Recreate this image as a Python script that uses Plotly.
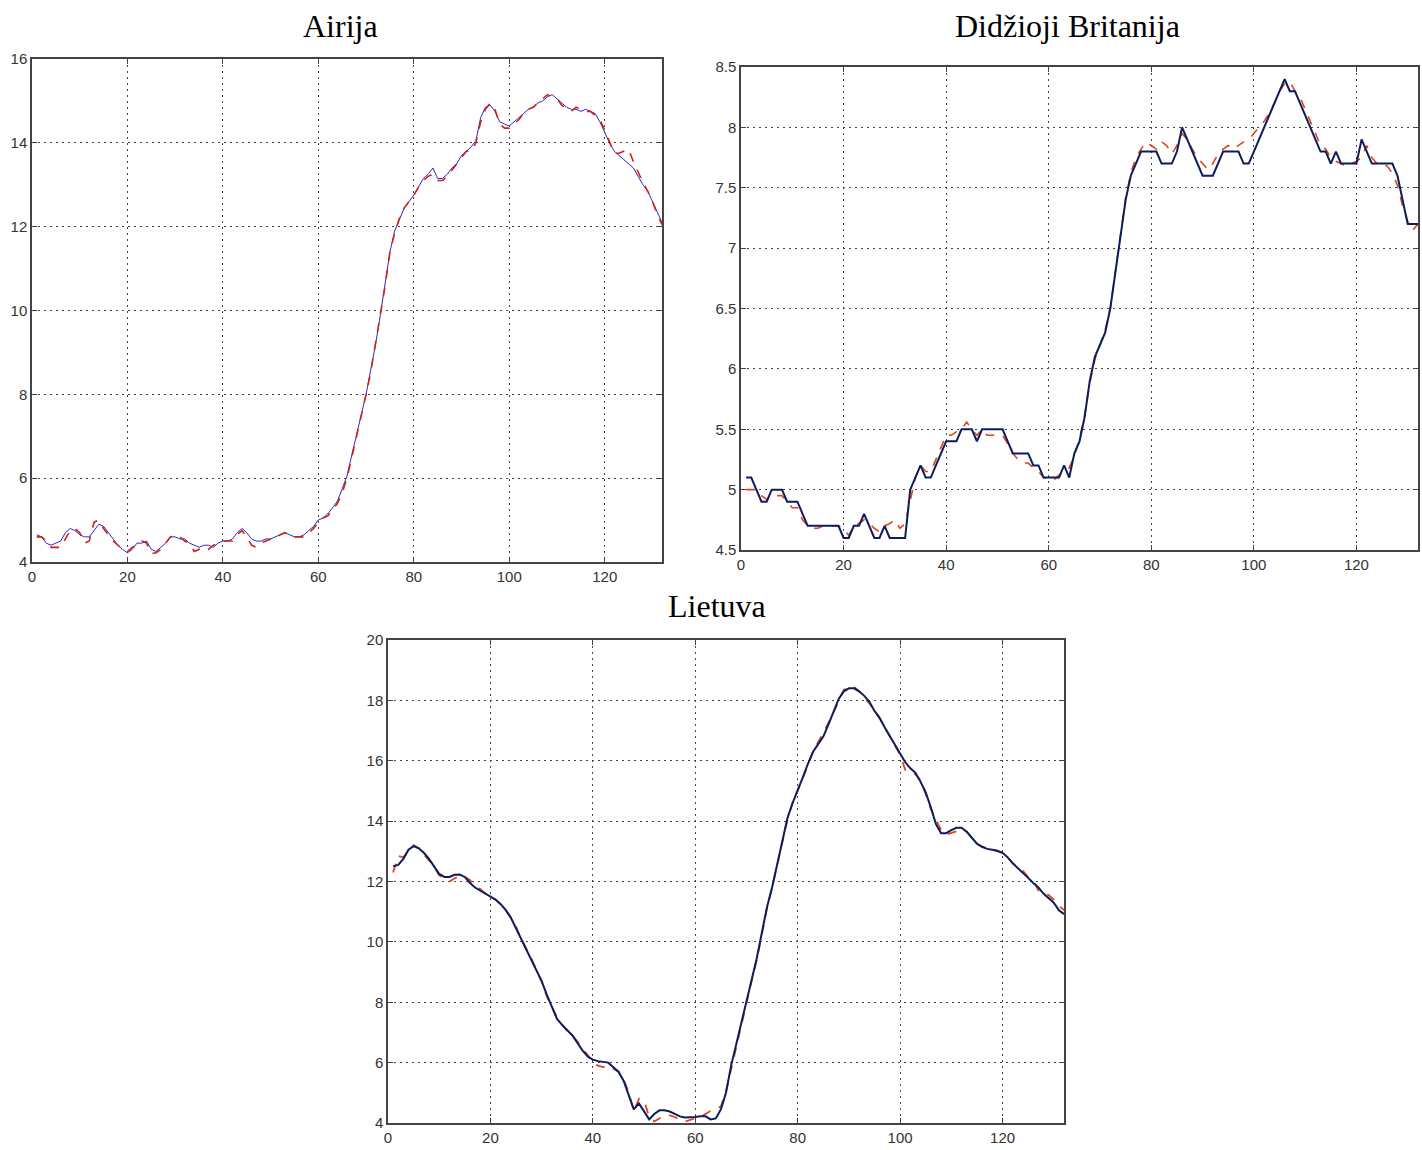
import plotly.graph_objects as go

x_vals = list(range(1, 133))

# Airija
air_actual = [4.65,4.6,4.45,4.4,4.45,4.5,4.7,4.8,4.75,4.65,4.6,4.6,4.75,4.9,4.85,4.7,4.55,4.4,4.3,4.22,
              4.3,4.45,4.45,4.5,4.3,4.25,4.35,4.45,4.6,4.6,4.55,4.55,4.45,4.4,4.35,4.4,4.4,4.35,4.45,4.5,
              4.5,4.55,4.7,4.8,4.7,4.55,4.5,4.5,4.55,4.55,4.6,4.65,4.7,4.65,4.6,4.6,4.65,4.75,4.85,5.0,
              5.05,5.15,5.3,5.45,5.75,6.05,6.55,7.05,7.5,8.0,8.6,9.2,9.9,10.7,11.4,11.9,12.2,12.45,12.6,12.75,
              12.95,13.15,13.25,13.4,13.15,13.15,13.25,13.4,13.5,13.7,13.8,13.9,14.05,14.6,14.85,14.9,14.75,14.5,14.45,14.4,
              14.5,14.6,14.7,14.8,14.85,14.95,15.0,15.1,15.15,15.05,14.95,14.85,14.8,14.8,14.75,14.8,14.75,14.7,14.5,14.25,
              14.0,13.8,13.7,13.6,13.5,13.4,13.2,13.0,12.85,12.6,12.35,12.1]
air_model = [4.6,4.6,4.5,4.35,4.35,4.35,4.55,4.75,4.8,4.7,4.45,4.5,4.95,5.0,4.8,4.65,4.5,4.4,4.3,4.25,
             4.35,4.4,4.5,4.45,4.2,4.22,4.3,4.45,4.6,4.65,4.6,4.5,4.45,4.25,4.3,4.35,4.3,4.4,4.45,4.5,
             4.5,4.5,4.65,4.75,4.6,4.4,4.35,4.45,4.5,4.55,4.55,4.65,4.7,4.6,4.6,4.6,4.6,4.7,4.8,4.95,
             5.05,5.1,5.25,5.4,5.65,6.0,6.5,7.0,7.45,8.0,8.55,9.2,9.9,10.6,11.4,11.85,12.2,12.45,12.6,12.75,
             12.95,13.1,13.2,13.25,13.1,13.1,13.2,13.35,13.5,13.65,13.8,13.8,14.0,14.5,14.8,14.95,14.8,14.45,14.35,14.35,
             14.45,14.55,14.7,14.8,14.85,14.95,15.05,15.15,15.1,15.05,14.9,14.8,14.75,14.85,14.8,14.75,14.75,14.65,14.55,14.3,
             14.0,13.75,13.75,13.8,13.85,13.55,13.3,13.05,12.85,12.6,12.3,12.05]

# Didzioji Britanija
gb_actual = [5.1,5.1,5.0,4.9,4.9,5.0,5.0,5.0,4.9,4.9,4.9,4.8,4.7,4.7,4.7,4.7,4.7,4.7,4.7,4.6,
             4.6,4.7,4.7,4.8,4.7,4.6,4.6,4.7,4.6,4.6,4.6,4.6,5.0,5.1,5.2,5.1,5.1,5.2,5.3,5.4,
             5.4,5.4,5.5,5.5,5.5,5.4,5.5,5.5,5.5,5.5,5.5,5.4,5.3,5.3,5.3,5.3,5.2,5.2,5.1,5.1,
             5.1,5.1,5.2,5.1,5.3,5.4,5.6,5.9,6.1,6.2,6.3,6.5,6.8,7.1,7.4,7.6,7.7,7.8,7.8,7.8,
             7.8,7.7,7.7,7.7,7.8,8.0,7.9,7.8,7.7,7.6,7.6,7.6,7.7,7.8,7.8,7.8,7.8,7.7,7.7,7.8,
             7.9,8.0,8.1,8.2,8.3,8.4,8.3,8.3,8.2,8.1,8.0,7.9,7.8,7.8,7.7,7.8,7.7,7.7,7.7,7.7,
             7.9,7.8,7.7,7.7,7.7,7.7,7.7,7.6,7.4,7.2,7.2,7.2]
gb_model = [5.0,5.0,5.0,4.95,4.92,4.95,4.95,4.95,4.9,4.85,4.85,4.75,4.7,4.68,4.68,4.7,4.7,4.7,4.7,4.68,
            4.62,4.7,4.72,4.75,4.72,4.68,4.65,4.7,4.72,4.75,4.68,4.72,4.9,5.1,5.2,5.15,5.15,5.25,5.35,5.45,
            5.45,5.48,5.5,5.56,5.5,5.45,5.5,5.45,5.45,5.45,5.45,5.38,5.3,5.25,5.22,5.22,5.18,5.15,5.1,5.08,
            5.08,5.12,5.15,5.18,5.28,5.42,5.62,5.88,6.08,6.2,6.32,6.5,6.82,7.12,7.42,7.62,7.75,7.82,7.88,7.85,
            7.82,7.88,7.85,7.78,7.85,7.95,7.9,7.82,7.75,7.7,7.65,7.7,7.78,7.82,7.85,7.82,7.85,7.88,7.9,7.95,
            8.0,8.05,8.12,8.2,8.3,8.36,8.38,8.3,8.25,8.15,8.05,7.95,7.85,7.82,7.75,7.72,7.7,7.68,7.7,7.72,
            7.75,7.85,7.75,7.7,7.7,7.68,7.62,7.52,7.35,7.22,7.15,7.2]

# Lietuva
lt_actual = [12.5,12.55,12.75,13.05,13.17,13.1,12.95,12.75,12.5,12.25,12.15,12.15,12.22,12.23,12.15,11.95,11.8,11.7,11.6,11.5,
             11.4,11.25,11.05,10.8,10.45,10.1,9.8,9.45,9.1,8.7,8.25,7.85,7.45,7.25,7.08,6.9,6.65,6.4,6.2,6.1,
             6.05,6.03,6.0,5.85,5.7,5.4,4.9,4.45,4.65,4.4,4.12,4.3,4.42,4.42,4.38,4.3,4.22,4.18,4.18,4.2,
             4.22,4.22,4.12,4.15,4.45,5.0,5.9,6.6,7.4,8.1,8.75,9.45,10.3,11.15,11.8,12.6,13.35,14.1,14.6,15.0,
             15.45,15.9,16.3,16.55,16.8,17.2,17.65,18.05,18.3,18.4,18.4,18.3,18.15,17.95,17.65,17.42,17.1,16.8,16.5,16.2,
             15.95,15.75,15.6,15.3,14.95,14.45,13.9,13.6,13.6,13.7,13.78,13.78,13.65,13.45,13.25,13.15,13.08,13.05,13.02,12.95,
             12.8,12.6,12.45,12.3,12.12,11.95,11.8,11.6,11.45,11.3,11.05,10.92]
lt_model = [12.3,12.85,12.8,13.0,13.2,13.1,12.9,12.7,12.5,12.2,12.1,12.0,12.1,12.2,12.15,12.05,11.85,11.75,11.6,11.5,
            11.4,11.25,11.05,10.8,10.5,10.1,9.8,9.45,9.05,8.7,8.2,7.85,7.5,7.25,7.05,6.9,6.7,6.45,6.25,6.0,
            5.9,5.85,5.9,5.8,5.7,5.45,5.0,4.4,4.8,4.75,4.2,4.05,4.15,4.25,4.25,4.2,4.1,4.05,4.1,4.15,
            4.2,4.3,4.4,4.45,4.55,5.05,5.8,6.5,7.3,8.0,8.7,9.4,10.25,11.1,11.8,12.55,13.3,14.05,14.6,15.0,
            15.4,15.85,16.3,16.6,16.9,17.25,17.6,18.0,18.35,18.45,18.45,18.3,18.1,17.9,17.65,17.4,17.1,16.8,16.5,16.2,
            15.7,15.6,15.55,15.35,14.9,14.4,14.05,13.7,13.55,13.6,13.65,13.72,13.65,13.45,13.25,13.15,13.1,13.05,13.02,12.95,
            12.8,12.6,12.5,12.35,12.15,12.05,11.7,11.65,11.55,11.4,11.2,11.05]

titles = ["Airija", "Didžioji Britanija", "Lietuva"]
air_yticks = [4, 6, 8, 10, 12, 14, 16]
gb_yticks = [4.5, 5, 5.5, 6, 6.5, 7, 7.5, 8, 8.5]
gb_ytext = ["4.5", "5", "5.5", "6", "6.5", "7", "7.5", "8", "8.5"]
lt_yticks = [4, 6, 8, 10, 12, 14, 16, 18, 20]
x_ticks = [0, 20, 40, 60, 80, 100, 120]

W, H = 1422, 1150
fig = go.Figure()

# panel pixel boxes: (left, right, top, bottom)
boxes = [(32, 662, 59, 562), (741, 1418, 67, 550), (388, 1064, 640, 1123)]

def dom(b):
    l, r, t, bt = b
    return [l / W, r / W], [1 - bt / H, 1 - t / H]

# Airija
fig.add_trace(go.Scatter(x=x_vals, y=air_actual, mode="lines", line=dict(color="#2a2ac8", width=1),
                         xaxis="x", yaxis="y", showlegend=False))
fig.add_trace(go.Scatter(x=x_vals, y=air_model, mode="lines", line=dict(color="#d0201a", width=1.6, dash="dash"),
                         xaxis="x", yaxis="y", showlegend=False))
# GB
fig.add_trace(go.Scatter(x=x_vals, y=gb_model, mode="lines", line=dict(color="#e0441c", width=1.6, dash="dash"),
                         xaxis="x2", yaxis="y2", showlegend=False))
fig.add_trace(go.Scatter(x=x_vals, y=gb_actual, mode="lines", line=dict(color="#0c1c5c", width=2),
                         xaxis="x2", yaxis="y2", showlegend=False))
# LT
fig.add_trace(go.Scatter(x=x_vals, y=lt_model, mode="lines", line=dict(color="#e0441c", width=1.8, dash="dash"),
                         xaxis="x3", yaxis="y3", showlegend=False))
fig.add_trace(go.Scatter(x=x_vals, y=lt_actual, mode="lines", line=dict(color="#0c1c5c", width=2),
                         xaxis="x3", yaxis="y3", showlegend=False))

tickfont = dict(family="Liberation Sans, Arial, sans-serif", size=15, color="#333333")
axcommon = dict(showline=True, linecolor="#444444", linewidth=1.5, mirror="ticks", ticks="inside",
                ticklen=5, tickcolor="#444444", showgrid=True, gridcolor="#444444", griddash="2px,4px",
                gridwidth=1, zeroline=False, tickfont=tickfont, fixedrange=True, automargin=False)

yconf = [(air_yticks, [str(v) for v in air_yticks], [4, 16]),
         (gb_yticks, gb_ytext, [4.5, 8.5]),
         (lt_yticks, [str(v) for v in lt_yticks], [4, 20])]

layout = {}
for i, b in enumerate(boxes):
    xd, yd = dom(b)
    sx = "" if i == 0 else str(i + 1)
    layout["xaxis" + sx] = dict(domain=xd, range=[0, 132], tickvals=x_ticks,
                                ticktext=[str(v) for v in x_ticks], anchor="y" + sx, **axcommon)
    tv, tt, rg = yconf[i]
    layout["yaxis" + sx] = dict(domain=yd, range=rg, tickvals=tv, ticktext=tt, anchor="x" + sx, **axcommon)

fig.update_layout(**layout)

title_pos = [(340, 26), (1067, 26), (717, 606)]
for t, (px, py) in zip(titles, title_pos):
    fig.add_annotation(x=px / W, y=1 - py / H, xref="paper", yref="paper", text=t, showarrow=False,
                       xanchor="center", yanchor="middle",
                       font=dict(family="Liberation Serif, Times New Roman, serif", size=32, color="#000000"))

fig.update_layout(width=W, height=H, margin=dict(l=0, r=0, t=0, b=0, pad=0, autoexpand=False),
                  plot_bgcolor="white", paper_bgcolor="white", showlegend=False)

fig.write_html("out.html", post_script="document.body.style.margin='0';document.body.style.overflow='hidden';")
